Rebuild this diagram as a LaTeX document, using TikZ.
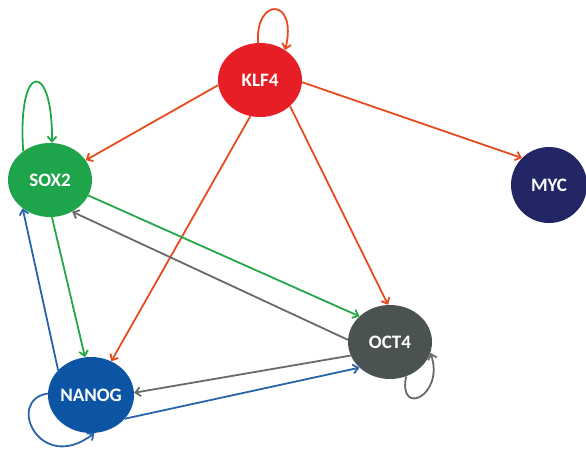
\documentclass[tikz,border=0pt]{standalone}
\usepackage{fontspec}
\setmainfont{Carlito}
\usetikzlibrary{shapes.geometric,arrows.meta}
\definecolor{klfred}{RGB}{232,30,38}
\definecolor{redge}{RGB}{230,75,30}
\definecolor{soxgreen}{RGB}{30,165,75}
\definecolor{gedge}{RGB}{34,168,70}
\definecolor{mycnavy}{RGB}{35,38,100}
\definecolor{octgray}{RGB}{75,82,82}
\definecolor{grayedge}{RGB}{105,105,105}
\definecolor{nanblue}{RGB}{12,85,165}
\definecolor{bedge}{RGB}{40,100,170}
\tikzset{
  gene/.style={ellipse, inner sep=-3pt, minimum width=84pt, minimum height=74pt,
    text=white, font=\fontsize{19}{19}\selectfont\bfseries},
  link/.style={line width=1.8pt, -{Straight Barb[length=5pt,width=9pt]}},
}
\begin{document}
\begin{tikzpicture}[x=1pt,y=-1pt]
\useasboundingbox (0,0) rectangle (586,450);
\node[gene, fill=klfred] (klf4) at (260,80) {KLF4};
\node[gene, fill=soxgreen] (sox2) at (50,180) {SOX2};
\node[gene, fill=mycnavy, minimum width=76pt, minimum height=76pt] (myc) at (549,185) {MYC};
\node[gene, fill=octgray] (oct4) at (390,342) {OCT4};
\node[gene, fill=nanblue, minimum width=86pt, minimum height=76pt] (nanog) at (91,395) {NANOG};

% KLF4 edges
\draw[link, redge] (klf4.93) .. controls (255,-3) and (298,-3) .. (klf4.50);
\draw[link, redge] (klf4.187) -- (sox2.29);
\draw[link, redge] (klf4.-3) -- (myc.135);
\draw[link, redge] (klf4.-41) -- (oct4.93);
\draw[link, redge] (klf4.-105) -- (nanog.59);

% SOX2 edges
\draw[link, gedge] (sox2.133) .. controls (17,60) and (53,60) .. (sox2.87);
\draw[link, gedge] (sox2.-87) -- (nanog.99);
\draw[link, gedge] (sox2.-22) -- (oct4.140);

% OCT4 edges
\draw[link, grayedge] (oct4.177) -- (sox2.-55);
\draw[link, grayedge] (oct4.199) -- (nanog.3);
\draw[link, grayedge] (oct4.-65) .. controls (398,418) and (445,395) .. (oct4.-15);

% NANOG edges
\draw[link, bedge] (nanog.143) -- (sox2.226);
\draw[link, bedge] (nanog.-35) -- (oct4.220);
\draw[link, bedge] (nanog.178) .. controls (5,400) and (40,475) .. (nanog.-85);
\end{tikzpicture}
\end{document}
